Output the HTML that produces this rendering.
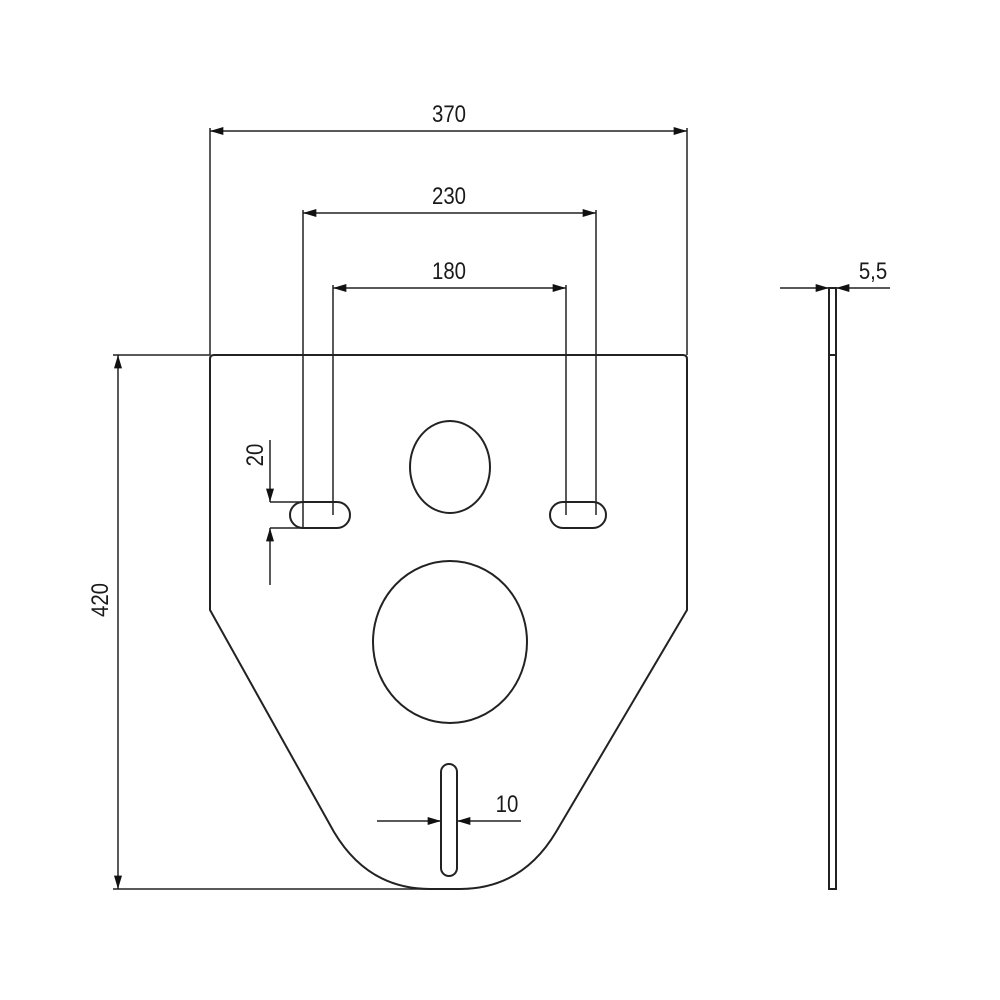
<!DOCTYPE html>
<html><head><style>body{margin:0;background:#fff}svg{display:block}text{font-family:"Liberation Sans",sans-serif;font-size:24px;fill:#1a1a1a}</style></head><body>
<svg width="1000" height="1000" viewBox="0 0 1000 1000" xmlns="http://www.w3.org/2000/svg">
<defs><marker id="a" viewBox="0 0 10 6" refX="10" refY="3" markerWidth="17" markerHeight="8" markerUnits="userSpaceOnUse" orient="auto-start-reverse"><path d="M0,0L10,3L0,6z" fill="#111"/></marker></defs>
<g stroke="#222" stroke-width="2" fill="none">
<path d="M214,355 L683,355 Q687,355 687,359 L687,610 L556,832 Q522,889 460,889 L430,889 Q368,889 334,832 L210,610 L210,359 Q210,355 214,355 Z"/>
<ellipse cx="450" cy="467" rx="40" ry="46"/>
<ellipse cx="450" cy="642" rx="77" ry="81"/>
<rect x="290" y="502" width="60" height="26" rx="13"/>
<rect x="550" y="502" width="56" height="26" rx="13"/>
<rect x="441" y="764" width="16" height="112" rx="8"/>
<rect x="829" y="288" width="7" height="601"/>
<line x1="829" y1="355" x2="836" y2="355"/>
</g>
<g stroke="#222" stroke-width="1.5" fill="none">
<line x1="210" y1="128" x2="210" y2="355"/><line x1="687" y1="128" x2="687" y2="355"/>
<line x1="210" y1="131" x2="687" y2="131" marker-start="url(#a)" marker-end="url(#a)"/>
<line x1="303" y1="210" x2="303" y2="528"/><line x1="596" y1="210" x2="596" y2="515"/>
<line x1="303" y1="213" x2="596" y2="213" marker-start="url(#a)" marker-end="url(#a)"/>
<line x1="333" y1="285" x2="333" y2="515"/><line x1="566" y1="285" x2="566" y2="515"/>
<line x1="333" y1="288" x2="566" y2="288" marker-start="url(#a)" marker-end="url(#a)"/>
<line x1="113" y1="355" x2="210" y2="355"/><line x1="113" y1="889" x2="430" y2="889"/>
<line x1="118" y1="355" x2="118" y2="889" marker-start="url(#a)" marker-end="url(#a)"/>
<line x1="270" y1="502" x2="303" y2="502"/><line x1="270" y1="528" x2="303" y2="528"/>
<line x1="270" y1="440" x2="270" y2="502" marker-end="url(#a)"/>
<line x1="270" y1="585" x2="270" y2="528" marker-end="url(#a)"/>
<line x1="377" y1="821" x2="441" y2="821" marker-end="url(#a)"/>
<line x1="521" y1="821" x2="457" y2="821" marker-end="url(#a)"/>
<line x1="780" y1="288" x2="829" y2="288" marker-end="url(#a)"/>
<line x1="890" y1="288" x2="836" y2="288" marker-end="url(#a)"/>
</g>
<g>
<text transform="translate(449,122) scale(0.85,1)" text-anchor="middle">370</text>
<text transform="translate(449,204) scale(0.85,1)" text-anchor="middle">230</text>
<text transform="translate(449,279) scale(0.85,1)" text-anchor="middle">180</text>
<text transform="translate(873,279) scale(0.85,1)" text-anchor="middle">5,5</text>
<text transform="translate(507,812) scale(0.85,1)" text-anchor="middle">10</text>
<text transform="translate(108,600) rotate(-90) scale(0.85,1)" text-anchor="middle">420</text>
<text transform="translate(263,455) rotate(-90) scale(0.85,1)" text-anchor="middle">20</text>
</g>
</svg>
</body></html>
